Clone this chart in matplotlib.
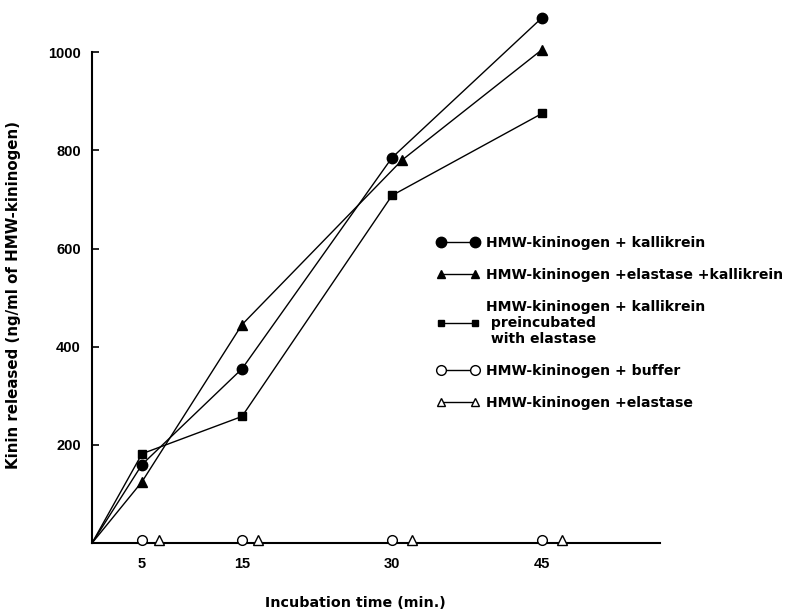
import matplotlib.pyplot as plt
from matplotlib.lines import Line2D

plt.rcParams['font.family'] = ['Liberation Sans', 'DejaVu Sans']
plt.rcParams['font.weight'] = 'bold'

# data
t_kal = [0, 5, 15, 30, 45]
kal = [0, 160, 355, 785, 1070]

t_ela_kal = [0, 5, 15, 31, 45]
ela_kal = [0, 125, 445, 780, 1005]

t_pre = [0, 5, 15, 30, 45]
pre = [0, 182, 258, 708, 875]

t_buf = [5, 15, 30, 45]
buf = [6, 6, 6, 6]

t_ela = [6.7, 16.6, 32, 47]
ela = [6, 6, 6, 6]

xticks = [5, 15, 30, 45]
yticks = [200, 400, 600, 800, 1000]

wide = ['DejaVu Sans']

fig = plt.figure(figsize=(8, 6.13), dpi=100)
ax = fig.add_axes([0.115, 0.114, 0.71, 0.801])

# no marker at the origin
ax.plot(t_kal, kal, color='black', lw=1.0, marker='o', ms=7.5, markevery=[1, 2, 3, 4], clip_on=False, zorder=3)
ax.plot(t_ela_kal, ela_kal, color='black', lw=1.0, marker='^', ms=6.5, markevery=[1, 2, 3, 4], clip_on=False, zorder=3)
ax.plot(t_pre, pre, color='black', lw=1.0, marker='s', ms=5.5, markevery=[1, 2, 3, 4], clip_on=False, zorder=3)
ax.plot(t_buf, buf, ls='none', marker='o', ms=7, mfc='white', mec='black', mew=1.0, clip_on=False, zorder=4)
ax.plot(t_ela, ela, ls='none', marker='^', ms=6.5, mfc='white', mec='black', mew=1.0, clip_on=False, zorder=4)

ax.set_xlim(0, 56.8)
ax.set_ylim(0, 1000)
ax.set_xticks(xticks)
ax.set_yticks(yticks)
ax.tick_params(axis='x', length=0, pad=10, labelsize=10.5)
ax.tick_params(axis='y', direction='in', length=5, width=1.2, pad=8, labelsize=10.5)
for s in ['top', 'right']:
    ax.spines[s].set_visible(False)
ax.spines['left'].set_linewidth(1.5)
ax.spines['bottom'].set_linewidth(1.5)

ax.set_xlabel('Incubation time (min.)', fontsize=10.3, fontweight='bold', family=wide, va='center')
ax.xaxis.set_label_coords(0.463, -0.122)
ax.set_ylabel('Kinin released (ng/ml of HMW-kininogen)', fontsize=10.8, fontweight='bold', family=wide)
ax.yaxis.set_label_coords(-0.125, 0.505)

handles = [
    Line2D([], [], color='black', lw=1, marker='o', ms=7.5),
    Line2D([], [], color='black', lw=1, marker='^', ms=5.5),
    Line2D([], [], color='black', lw=1, marker='s', ms=4.5),
    Line2D([], [], color='black', lw=1, marker='o', ms=7, mfc='white'),
    Line2D([], [], color='black', lw=1, marker='^', ms=5.5, mfc='white'),
]
labels = [
    'HMW-kininogen + kallikrein',
    'HMW-kininogen +elastase +kallikrein',
    'HMW-kininogen + kallikrein\n preincubated\n with elastase',
    'HMW-kininogen + buffer',
    'HMW-kininogen +elastase',
]
leg = ax.legend(handles, labels, loc='upper left', bbox_to_anchor=(0.53, 0.636),
                bbox_transform=fig.transFigure, frameon=False, numpoints=2,
                handlelength=3.0, handletextpad=0.5, labelspacing=1.3,
                prop={'size': 10.1, 'weight': 'bold', 'family': wide})
for txt in leg.get_texts():
    txt.set_linespacing(1.15)

fig.savefig('out.png', dpi=100)
